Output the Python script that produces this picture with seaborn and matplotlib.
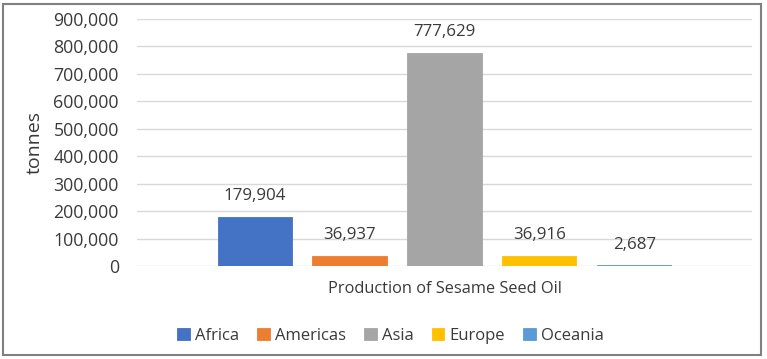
import matplotlib
matplotlib.use("Agg")
import matplotlib.pyplot as plt
import seaborn as sns
import pandas as pd
from matplotlib.patches import Rectangle
from matplotlib.ticker import FuncFormatter, MultipleLocator

categories = ["Production of Sesame Seed Oil"]
regions = ["Africa", "Americas", "Asia", "Europe", "Oceania"]
values = [179904, 36937, 777629, 36916, 2687]
colors = ["#4472C4", "#ED7D31", "#A5A5A5", "#FFC000", "#5B9BD5"]

df = pd.DataFrame({
    "category": categories * len(regions),
    "region": regions,
    "value": values,
})

sns.set_theme(style="white")
plt.rcParams["font.family"] = ["Open Sans", "DejaVu Sans"]
text_color = "#3A3A3A"
fs = 12.8

fig = plt.figure(figsize=(7.67, 3.59), dpi=100)
ax = fig.add_axes([0.1786, 0.259, 0.8018, 0.688])

sns.barplot(data=df, x="category", y="value", hue="region", hue_order=regions,
            palette=colors, width=0.772, gap=0.22, ax=ax, legend=True,
            saturation=1.0, errorbar=None)
for p in ax.patches:
    p.set_edgecolor(p.get_facecolor())
    p.set_linewidth(0.6)

ax.set_xlim(-0.5, 0.5)
ax.set_ylim(0, 900000)
ax.yaxis.set_major_locator(MultipleLocator(100000))
ax.yaxis.set_major_formatter(FuncFormatter(lambda v, p: f"{int(v):,}"))
ax.grid(axis="y", color="#D9D9D9", linewidth=1)
ax.set_axisbelow(True)
for s in ax.spines.values():
    s.set_visible(False)
ax.tick_params(axis="y", length=0, labelsize=fs, colors=text_color, pad=13)
ax.tick_params(axis="x", length=0, labelsize=11.8, colors=text_color, pad=11)
ax.set_xlabel("")
ax.set_ylabel("tonnes", fontsize=14, color=text_color, labelpad=7)

for cont in ax.containers:
    ax.bar_label(cont, labels=[f"{int(v):,}" for v in cont.datavalues],
                 padding=9, fontsize=12.2, color=text_color)

handles, labels = ax.get_legend_handles_labels()
ax.get_legend().remove()
fig.legend(handles, labels, loc="center", bbox_to_anchor=(0.509, 0.065),
           ncol=5, frameon=False, fontsize=12, handlelength=0.75,
           handleheight=0.75, handletextpad=0.3, columnspacing=1.1,
           labelcolor=text_color)

fig.patches.append(Rectangle((3 / 767, 4 / 359), 758 / 767, 351 / 359,
                             transform=fig.transFigure, fill=False,
                             edgecolor="#808080", linewidth=1.5))

fig.savefig("out.png", dpi=100)
